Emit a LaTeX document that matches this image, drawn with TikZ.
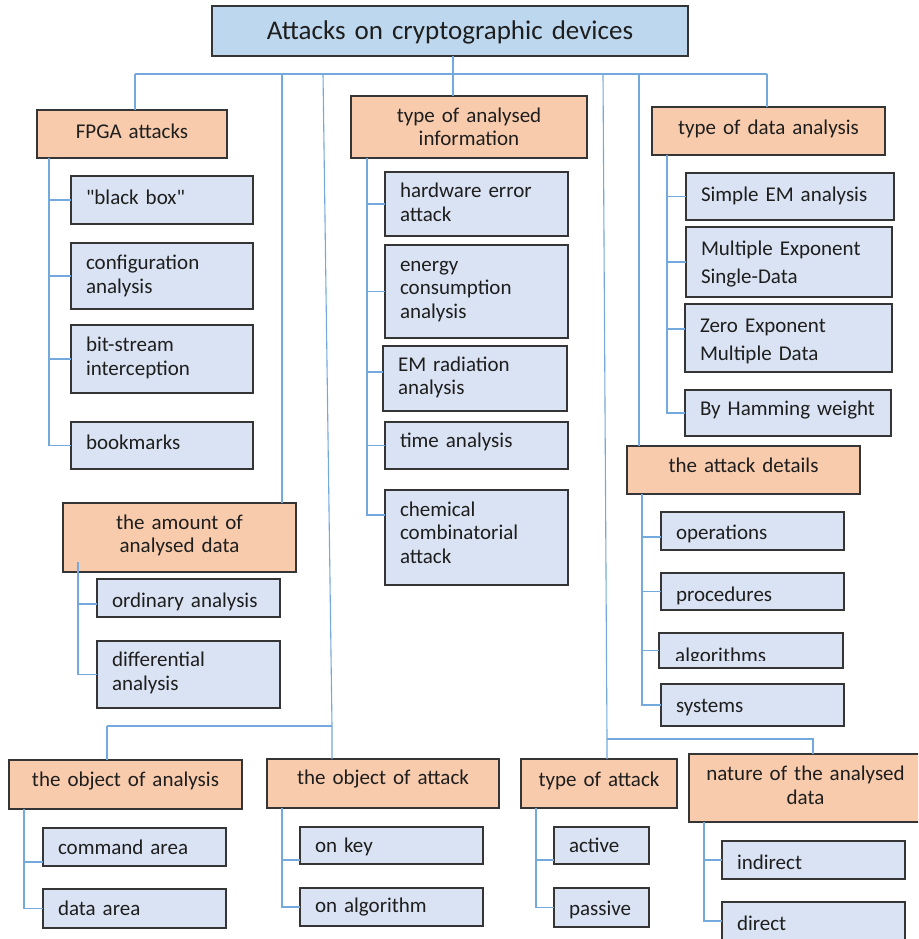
\documentclass[tikz,border=0pt]{standalone}
\usepackage{fontspec}
\setmainfont{Carlito}
\usetikzlibrary{calc}

\definecolor{ttlfill}{HTML}{BDD7EE}
\definecolor{hdrfill}{HTML}{F8CBAD}
\definecolor{leaffill}{HTML}{DAE3F3}
\definecolor{bordc}{HTML}{353535}
\definecolor{linkc}{HTML}{74A9DE}
\definecolor{txtc}{HTML}{1E1E1E}

% [#1 text offset], #2 style, #3 name, #4 left, #5 top, #6 right, #7 bottom, #8 text
\newcommand{\mkbox}[8][0]{%
  \pgfmathsetmacro{\mkboxw}{#6-#4}%
  \pgfmathsetmacro{\mkboxh}{#7-#5}%
  \pgfmathsetmacro{\mkboxt}{#6-#4-30}%
  \node[#2, minimum width=\mkboxw pt, minimum height=\mkboxh pt,
        anchor=north west] (#3) at (#4,#5) {};
  \node[#2, draw=none, fill=none, text width=\mkboxt pt]
        (#3-txt) at ($(#3.center)+(0,#1)$) {#8};}

\tikzset{
  basebox/.style={draw=bordc, line width=1.1pt, inner xsep=15pt, inner ysep=0pt,
    outer sep=0pt, text=txtc, font=\fontsize{21}{23.5}\selectfont},
  ttlbox/.style={basebox, fill=ttlfill, align=center, font=\fontsize{27}{30}\selectfont},
  hdrbox/.style={basebox, fill=hdrfill, align=center},
  leafbox/.style={basebox, fill=leaffill, align=left},
  wideleaf/.style={leafbox, font=\fontsize{21}{28}\selectfont},
  conn/.style={draw=linkc, line width=1.1pt},
}

\begin{document}
\begin{tikzpicture}[x=1pt, y=-1pt]
\fill[white] (0,0) rectangle (918,939);
\useasboundingbox (0,0) rectangle (918,939);
\clip (0,0) rectangle (918,939);

% ---- title and first-level groups
\mkbox[1]{ttlbox}{title}{212}{6}{688}{56}{Attacks on cryptographic devices}

\mkbox[-3]{hdrbox}{fpga}{37}{110}{227}{158}{FPGA attacks}
\mkbox[-3]{leafbox}{blackbox}{71}{176}{253}{224}{\textquotedbl black box\textquotedbl}
\mkbox{leafbox}{config}{71}{243}{253}{309}{configuration\\analysis}
\mkbox[-1]{leafbox}{bitstream}{71}{325}{253}{393}{bit-stream\\interception}
\mkbox[-3]{leafbox}{bookmarks}{71}{422}{253}{469}{bookmarks}

\mkbox{hdrbox}{info}{351}{96}{587}{158}{type of analysed\\information}
\mkbox[-1.5]{leafbox}{hwerror}{385}{172}{568}{236}{hardware error\\attack}
\mkbox{leafbox}{energy}{385}{245}{568}{338}{energy\\consumption\\analysis}
\mkbox[-1]{leafbox}{emrad}{383}{346}{567}{411}{EM radiation\\analysis}
\mkbox[-4]{leafbox}{timean}{385}{422}{568}{469}{time analysis}
\mkbox[-5]{leafbox}{chemical}{385}{490}{568}{585}{chemical\\combinatorial\\attack}

\mkbox[-2]{hdrbox}{typedata}{652}{107}{885}{155}{type of data analysis}
\mkbox[-1]{leafbox}{simpleem}{686}{173}{894}{220}{Simple EM analysis}
\mkbox[2]{wideleaf}{multexp}{686}{227}{892}{297}{Multiple Exponent\\Single-Data}
\mkbox[3]{wideleaf}{zeroexp}{685}{304}{892}{372}{Zero Exponent\\Multiple Data}
\mkbox[-3]{leafbox}{hamming}{685}{390}{891}{436}{By Hamming weight}

\mkbox[-5]{hdrbox}{details}{627}{446}{860}{494}{the attack details}
\mkbox[3]{leafbox}{operations}{661}{512}{844}{550}{operations}
\mkbox[4]{leafbox}{procedures}{661}{573}{844}{610}{procedures}
\mkbox{leafbox}{algorithms}{659}{633}{843}{668}{}
\begin{scope}
  \clip (659,633) rectangle (843,660.5);
  \node[anchor=base west, inner sep=0pt, text=txtc,
        font=\fontsize{21}{23.5}\selectfont] (algtext) at (675,662) {algorithms};
\end{scope}
\mkbox[3]{leafbox}{systems}{661}{684}{844}{726}{systems}

\mkbox[-2]{hdrbox}{amount}{63}{503}{296}{572}{the amount of\\analysed data}
\mkbox[4]{leafbox}{ordinary}{97}{579}{280}{617}{ordinary analysis}
\mkbox[-1.5]{leafbox}{differential}{97}{641}{280}{708}{differential\\analysis}

% ---- bottom row
\mkbox[-4]{hdrbox}{objana}{9}{760}{242}{809}{the object of analysis}
\mkbox{leafbox}{command}{43}{828}{226}{866}{command area}
\mkbox{leafbox}{dataarea}{43}{889}{226}{928}{data area}

\mkbox[-5]{hdrbox}{objatt}{267}{759}{499}{808}{the object of attack}
\mkbox[1]{leafbox}{onkey}{300}{827}{483}{864}{on key}
\mkbox{leafbox}{onalg}{300}{888}{483}{926}{on algorithm}

\mkbox[-3]{hdrbox}{atttype}{521}{759}{677}{808}{type of attack}
\mkbox{leafbox}{active}{554}{827}{649}{864}{active}
\mkbox[2]{leafbox}{passive}{554}{888}{649}{927}{passive}

\mkbox[-2.5]{hdrbox}{nature}{689}{754}{922}{822}{nature of the analysed\\data}
\mkbox[2]{leafbox}{indirect}{722}{841}{905}{879}{indirect}
\mkbox[2]{leafbox}{direct}{722}{902}{905}{941}{direct}

% ---- main bus and drops
\coordinate (trunk) at (453,74);
\coordinate (busW) at (135,74);
\coordinate (busE) at (767,74);
\coordinate (dropA) at (282,74);
\coordinate (dropB) at (323,74);
\coordinate (dropC) at (603,74);
\coordinate (dropD) at (639,74);
\coordinate (busLL) at (107,726);
\coordinate (busLR) at (332,726);
\coordinate (busRL) at (607,739);
\coordinate (busRR) at (813,739);

\draw[conn] (title.south -| trunk) -- (info.north -| trunk);
\draw[conn] (busW) -- (busE);
\draw[conn] (busW) -- (fpga.north -| busW);
\draw[conn] (busE) -- (typedata.north -| busE);
\draw[conn] (dropA) -- (amount.north -| dropA);
\draw[conn] (dropD) -- (details.north -| dropD);
\draw[conn] (dropB) -- (busLR) -- (objatt.north -| busLR);
\draw[conn] (busLL) -- (busLR);
\draw[conn] (busLL) -- (objana.north -| busLL);
\draw[conn] (dropC) -- (busRL) -- (atttype.north -| busRL);
\draw[conn] (busRL) -- (busRR) -- (nature.north -| busRR);

% ---- spines to the leaves
\coordinate (fpgaS) at ($(fpga.south west)+(12,0)$);
\foreach \c in {blackbox,config,bitstream,bookmarks}
  \draw[conn] (fpgaS) |- (\c.west);

\coordinate (infoS) at ($(info.south west)+(16,0)$);
\foreach \c in {hwerror,energy,timean}
  \draw[conn] (infoS) |- (\c.west);
\draw[conn] (infoS) |- ($(emrad.north west)+(0,26)$);
\draw[conn] (infoS) |- ($(chemical.north west)+(0,25)$);

\coordinate (typedataS) at ($(typedata.south west)+(15,0)$);
\foreach \c in {simpleem,multexp,hamming}
  \draw[conn] (typedataS) |- (\c.west);
\draw[conn] (typedataS) |- ($(zeroexp.north west)+(0,25)$);

\coordinate (detailsS) at ($(details.south west)+(15,0)$);
\foreach \c in {procedures,algorithms,systems}
  \draw[conn] (detailsS) |- (\c.west);
\draw[conn] (detailsS) |- ($(operations.north west)+(0,25)$);

\coordinate (amountS) at (78,562);
\draw[conn] (amountS) |- ($(ordinary.north west)+(0,25)$);
\draw[conn] (amountS) |- (differential.west);

\coordinate (objanaS) at ($(objana.south west)+(15,0)$);
\draw[conn] (objanaS) |- ($(command.north west)+(0,34)$);
\draw[conn] (objanaS) |- (dataarea.west);

\coordinate (objattS) at ($(objatt.south west)+(15,0)$);
\draw[conn] (objattS) |- ($(onkey.north west)+(0,33)$);
\draw[conn] (objattS) |- (onalg.west);

\coordinate (atttypeS) at ($(atttype.south west)+(15,0)$);
\draw[conn] (atttypeS) |- ($(active.north west)+(0,33)$);
\draw[conn] (atttypeS) |- (passive.west);

\coordinate (natureS) at ($(nature.south west)+(15,0)$);
\draw[conn] (natureS) |- (indirect.west);
\draw[conn] (natureS) |- ($(direct.north west)+(0,19)$);
\end{tikzpicture}
\end{document}
